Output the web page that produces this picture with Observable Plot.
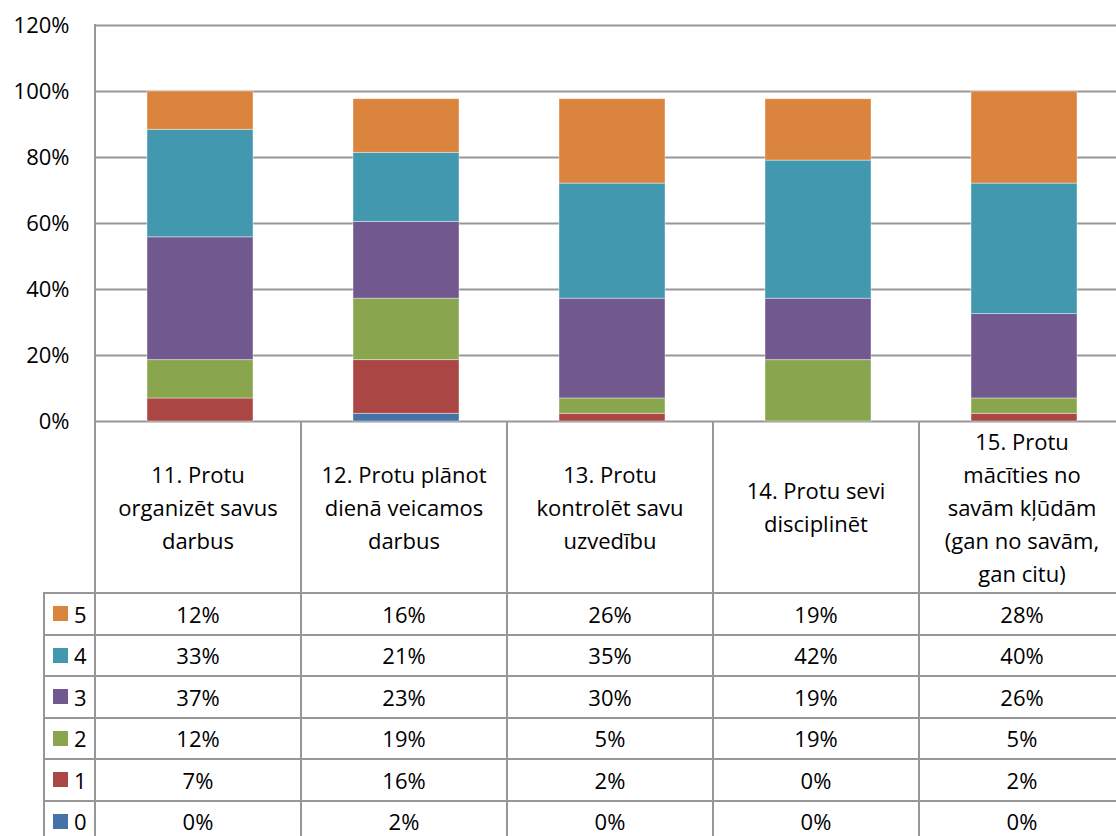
<!DOCTYPE html>
<html><head><meta charset="utf-8">
<script src="https://cdn.jsdelivr.net/npm/d3@7"></script>
<script src="https://cdn.jsdelivr.net/npm/@observablehq/plot@0.6"></script>
<style>
html,body{margin:0;padding:0;background:#fff;overflow:hidden;width:1116px;height:836px}
#wrap{position:relative;width:1116px;height:836px;overflow:hidden;font-family:"Open Sans",sans-serif;color:#000}
#wrap svg{position:absolute;left:0;top:0;max-width:none !important}
.cell{position:absolute;box-sizing:border-box;display:flex;align-items:center;justify-content:center;text-align:center;font-size:22px;white-space:pre-line}
.hdr{line-height:33px}
.hl{position:absolute;background:#979797;height:2px}
.vl{position:absolute;background:#979797;width:2px}
.key{position:absolute;width:15px;height:15px}
.klab{position:absolute;font-size:22px;display:flex;align-items:center}
</style></head><body><div id="wrap"></div>
<script>
// ---- data ----
const categories = [
  "11. Protu\norganizēt savus\ndarbus",
  "12. Protu plānot\ndienā veicamos\ndarbus",
  "13. Protu\nkontrolēt savu\nuzvedību",
  "14. Protu sevi\ndisciplinēt",
  "15. Protu\nmācīties no\nsavām kļūdām\n(gan no savām,\ngan citu)"
];
const seriesNames = ["0", "1", "2", "3", "4", "5"];
const seriesColors = ["#4572A7", "#AA4643", "#89A54E", "#71588F", "#4198AF", "#DB843D"];
// shares in percent (bars use these; table shows them rounded)
const s0 = [0, 2.33, 0, 0, 0];
const s1 = [6.98, 16.28, 2.33, 0, 2.33];
const s2 = [11.63, 18.60, 4.65, 18.60, 4.65];
const s3 = [37.21, 23.26, 30.23, 18.60, 25.58];
const s4 = [32.56, 20.93, 34.88, 41.86, 39.53];
const s5 = [11.63, 16.28, 25.58, 18.60, 27.91];
const seriesValues = [s0, s1, s2, s3, s4, s5];
const yTicks = [0, 20, 40, 60, 80, 100, 120];
const tableRowOrder = ["5", "4", "3", "2", "1", "0"];

// ---- build ----
const data = [];
categories.forEach((c, i) => seriesValues.forEach((vals, k) =>
  data.push({category: c, series: seriesNames[k], value: vals[i]})));

const GRID = "#979797";
const plot = Plot.plot({
  width: 1128, height: 423,
  marginTop: 25, marginBottom: 2, marginLeft: 95, marginRight: 0,
  style: {fontFamily: "'Open Sans', sans-serif", fontSize: "22px", color: "#000", background: "transparent", overflow: "visible", maxWidth: "none"},
  x: {domain: categories, paddingInner: 0.487, paddingOuter: 0.2435, axis: null},
  y: {domain: [0, 120], label: null},
  color: {domain: seriesNames, range: seriesColors},
  marks: [
    Plot.ruleY(yTicks, {stroke: GRID, strokeWidth: 2}),
    Plot.barY(data, {x: "category", y: "value", fill: "series", stroke: "#fff", strokeOpacity: 0.4, strokeWidth: 1}),
    Plot.axisY(yTicks, {tickFormat: d => d + "%", tickSize: 0, tickPadding: 26, fontSize: 22, fill: "#000", label: null})
  ]
});
const wrap = document.getElementById("wrap");
wrap.appendChild(plot);

// ---- data table below, positioned from the plot's scales ----
const xs = plot.scale("x"), ys = plot.scale("y");
const step = xs.step;
const left0 = xs.range[0];
const yZero = ys.apply(0);
const headerBottom = 593;
const rowH = 41.5;
const legendLeft = 44;

function add(cls, styles, text) {
  const d = document.createElement("div");
  d.className = cls;
  Object.assign(d.style, styles);
  if (text != null) d.textContent = text;
  wrap.appendChild(d);
  return d;
}
// header cells
categories.forEach((c, i) => {
  add("cell hdr", {left: (left0 + i * step) + "px", top: yZero + "px", width: step + "px", height: (headerBottom - yZero) + "px"}, c);
});
// data rows
tableRowOrder.forEach((s, r) => {
  const top = headerBottom + r * rowH;
  const k = seriesNames.indexOf(s);
  add("key", {left: (legendLeft + 9) + "px", top: (top + rowH / 2 - 7.5) + "px", background: seriesColors[k]});
  add("klab", {left: (legendLeft + 30) + "px", top: top + "px", height: rowH + "px"}, s);
  categories.forEach((c, i) => {
    add("cell", {left: (left0 + i * step) + "px", top: top + "px", width: step + "px", height: rowH + "px"}, Math.round(seriesValues[k][i]) + "%");
  });
});
// grid lines of table
for (let r = 0; r <= tableRowOrder.length; r++) {
  const y = headerBottom + r * rowH;
  add("hl", {left: (legendLeft - 1) + "px", top: (y - 1) + "px", width: (left0 + categories.length * step - legendLeft + 2) + "px"});
}
add("vl", {left: (legendLeft - 1) + "px", top: (headerBottom - 1) + "px", height: (836 - headerBottom + 10) + "px"});
add("vl", {left: (left0 - 1) + "px", top: (ys.apply(120) - 1) + "px", height: (836 - ys.apply(120) + 10) + "px"});
for (let i = 1; i <= categories.length; i++) {
  add("vl", {left: (left0 + i * step - 1) + "px", top: yZero + "px", height: (836 - yZero + 10) + "px"});
}
</script></body></html>
